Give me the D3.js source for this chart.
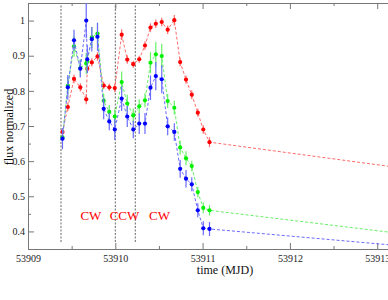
<!DOCTYPE html>
<html>
<head>
<meta charset="utf-8">
<script src="https://cdn.jsdelivr.net/npm/d3@7/dist/d3.min.js"></script>
<style>
body { margin: 0; background: #fff; }
svg { display: block; font-family: "Liberation Serif", "Times New Roman", serif; }
.axis path, .axis line { stroke: #777; }
.axis text { fill: #222; font-size: 10px; font-family: "Liberation Serif", "Times New Roman", serif; }
</style>
</head>
<body>
<div id="light_curve"></div>
<script>
// observation times (MJD)
var times = [53909.395, 53909.456, 53909.527, 53909.599, 53909.667, 53909.679, 53909.731,
             53909.796, 53909.867, 53909.931, 53909.994, 53910.073, 53910.137, 53910.206,
             53910.274, 53910.340, 53910.403, 53910.464, 53910.532, 53910.600, 53910.676,
             53910.743, 53910.810, 53910.876, 53910.945, 53911.008, 53911.079, 53913.5];

var redFlux = [0.683, 0.754, 0.834, 0.810, 0.776, 0.863, 0.881, 0.898, 0.815, 0.810, 0.808,
               0.960, 0.889, 0.876, 0.890, 0.929, 0.980, 0.991, 0.996, 0.974, 1.001, 0.882,
               0.832, 0.789, 0.738, 0.690, 0.654, 0.573];
var redErr = [0.010, 0.012, 0.012, 0.012, 0.014, 0.012, 0.012, 0.012, 0.010, 0.010, 0.012,
              0.015, 0.012, 0.010, 0.010, 0.012, 0.012, 0.012, 0.012, 0.012, 0.015, 0.012,
              0.012, 0.012, 0.012, 0.012, 0.014, 0.012];

var greenFlux = [0.668, 0.815, 0.927, 0.865, 0.878, 0.884, 0.952, 0.963, 0.772, 0.740, 0.727,
                 0.825, 0.764, 0.730, 0.756, 0.773, 0.880, 0.904, 0.899, 0.771, 0.752, 0.639,
                 0.608, 0.586, 0.512, 0.467, 0.460, 0.387];
var greenErr = [0.010, 0.025, 0.030, 0.025, 0.030, 0.020, 0.030, 0.030, 0.020, 0.020, 0.020,
                0.030, 0.025, 0.020, 0.020, 0.020, 0.030, 0.035, 0.035, 0.020, 0.020, 0.020,
                0.020, 0.015, 0.015, 0.015, 0.015, 0.015];

var blueFlux = [0.664, 0.810, 0.944, 0.863, 1.000, 0.890, 0.947, 0.954, 0.749, 0.713, 0.690,
                0.778, 0.727, 0.690, 0.707, 0.707, 0.809, 0.842, 0.833, 0.699, 0.683, 0.578,
                0.550, 0.534, 0.460, 0.409, 0.407, 0.354];
var blueErr = [0.030, 0.035, 0.030, 0.025, 0.050, 0.040, 0.035, 0.040, 0.030, 0.025, 0.030,
               0.035, 0.030, 0.025, 0.030, 0.030, 0.035, 0.040, 0.040, 0.025, 0.025, 0.025,
               0.025, 0.020, 0.020, 0.020, 0.020, 0.020];

// rotation changes (vertical dashed lines) and their labels
var switchTimes = [53909.378, 53910.0, 53910.229];
var switchRange = [0.37, 1.043];
var rotLabels = ["CW", "CCW", "CW"];
var rotLabelTimes = [53909.72, 53910.105, 53910.506];
var rotLabelFlux = 0.433;

var xTicks = [53909, 53910, 53911, 53912, 53913];
var xMinor = [53909.5, 53910.5, 53911.5, 53912.5];
var yTicks = [0.4, 0.5, 0.6, 0.7, 0.8, 0.9, 1.0];
var yMinor = [0.35, 0.45, 0.55, 0.65, 0.75, 0.85, 0.95, 1.05];

var svgwidth = 388, svgheight = 300;
var plotLeft = 28, plotTop = 3, plotBottom = 249;

var x = d3.scaleLinear().domain([53909, 53913.2]).range([plotLeft, plotLeft + 4.2 * 87.3]);
var y = d3.scaleLinear().domain([0.35, 1.05]).range([plotBottom, plotTop]);

var svg = d3.select("#light_curve").append("svg")
    .attr("width", svgwidth)
    .attr("height", svgheight);

svg.append("clipPath").attr("id", "plotclip")
  .append("rect")
    .attr("x", plotLeft).attr("y", plotTop)
    .attr("width", svgwidth - plotLeft).attr("height", plotBottom - plotTop);

// axes (ticks point inward)
svg.append("g")
    .attr("class", "x axis")
    .attr("transform", "translate(0," + plotBottom + ")")
    .call(d3.axisBottom(x).tickValues(xTicks).tickSizeInner(-6).tickSizeOuter(0).tickPadding(6)
        .tickFormat(d3.format("d")));
svg.append("g")
    .attr("class", "x axis")
    .attr("transform", "translate(0," + plotBottom + ")")
    .call(d3.axisBottom(x).tickValues(xMinor).tickSizeInner(-3).tickSizeOuter(0).tickFormat(""));
svg.append("g")
    .attr("class", "x axis")
    .attr("transform", "translate(0," + plotTop + ")")
    .call(d3.axisTop(x).tickValues(xTicks).tickSizeInner(-6).tickSizeOuter(0).tickFormat(""));
svg.append("g")
    .attr("class", "x axis")
    .attr("transform", "translate(0," + plotTop + ")")
    .call(d3.axisTop(x).tickValues(xMinor).tickSizeInner(-3).tickSizeOuter(0).tickFormat(""));

svg.append("g")
    .attr("class", "y axis")
    .attr("transform", "translate(" + plotLeft + ",0)")
    .call(d3.axisLeft(y).tickValues(yTicks).tickSizeInner(-6).tickSizeOuter(0).tickPadding(3)
        .tickFormat(function(d) { return d === 1 ? "1" : d3.format(".1f")(d); }));
svg.append("g")
    .attr("class", "y axis")
    .attr("transform", "translate(" + plotLeft + ",0)")
    .call(d3.axisLeft(y).tickValues(yMinor).tickSizeInner(-3).tickSizeOuter(0).tickFormat(""));

svg.append("text")
    .attr("x", 225)
    .attr("y", 274)
    .style("text-anchor", "middle")
    .style("font-size", "12px")
    .style("fill", "#111")
    .text("time (MJD)");

svg.append("text")
    .attr("transform", "translate(12.5,127) rotate(-90)")
    .style("text-anchor", "middle")
    .style("font-size", "12px")
    .style("fill", "#111")
    .text("flux normalized");

var plot = svg.append("g").attr("clip-path", "url(#plotclip)");

// rotation change markers
plot.selectAll(".switch")
    .data(switchTimes)
  .enter().append("line")
    .attr("class", "switch")
    .attr("x1", function(d) { return x(d); })
    .attr("x2", function(d) { return x(d); })
    .attr("y1", y(switchRange[0]))
    .attr("y2", y(switchRange[1]))
    .style("stroke", "#666")
    .style("stroke-width", 1)
    .style("stroke-dasharray", "2,1.5");

plot.selectAll(".rotlabel")
    .data(rotLabels)
  .enter().append("text")
    .attr("class", "rotlabel")
    .attr("x", function(d, i) { return x(rotLabelTimes[i]); })
    .attr("y", y(rotLabelFlux))
    .style("text-anchor", "middle")
    .style("font-size", "13px")
    .style("fill", "#ff0000")
    .text(function(d) { return d; });

var series = [
    {name: "red", flux: redFlux, err: redErr, color: "#ff0000", light: "#ff6a6a"},
    {name: "green", flux: greenFlux, err: greenErr, color: "#00f000", light: "#66f066"},
    {name: "blue", flux: blueFlux, err: blueErr, color: "#0000ff", light: "#6a6aff"}
];

var line = d3.line()
    .x(function(d) { return x(d.t); })
    .y(function(d) { return y(d.f); });

series.forEach(function(s) {
    var pts = times.map(function(t, i) { return {t: t, f: s.flux[i], e: s.err[i]}; });

    plot.append("path")
        .datum(pts)
        .attr("d", line)
        .style("fill", "none")
        .style("stroke", s.light)
        .style("stroke-width", 1)
        .style("stroke-dasharray", "3,2");

    plot.selectAll(".err-" + s.name)
        .data(pts)
      .enter().append("line")
        .attr("class", "err-" + s.name)
        .attr("x1", function(d) { return x(d.t); })
        .attr("x2", function(d) { return x(d.t); })
        .attr("y1", function(d) { return y(d.f - d.e); })
        .attr("y2", function(d) { return y(d.f + d.e); })
        .style("stroke", s.light)
        .style("stroke-width", 1.2);

    plot.selectAll(".pt-" + s.name)
        .data(pts)
      .enter().append("circle")
        .attr("class", "pt-" + s.name)
        .attr("cx", function(d) { return x(d.t); })
        .attr("cy", function(d) { return y(d.f); })
        .attr("r", 2.1)
        .style("fill", s.color);
});
</script>
</body>
</html>
